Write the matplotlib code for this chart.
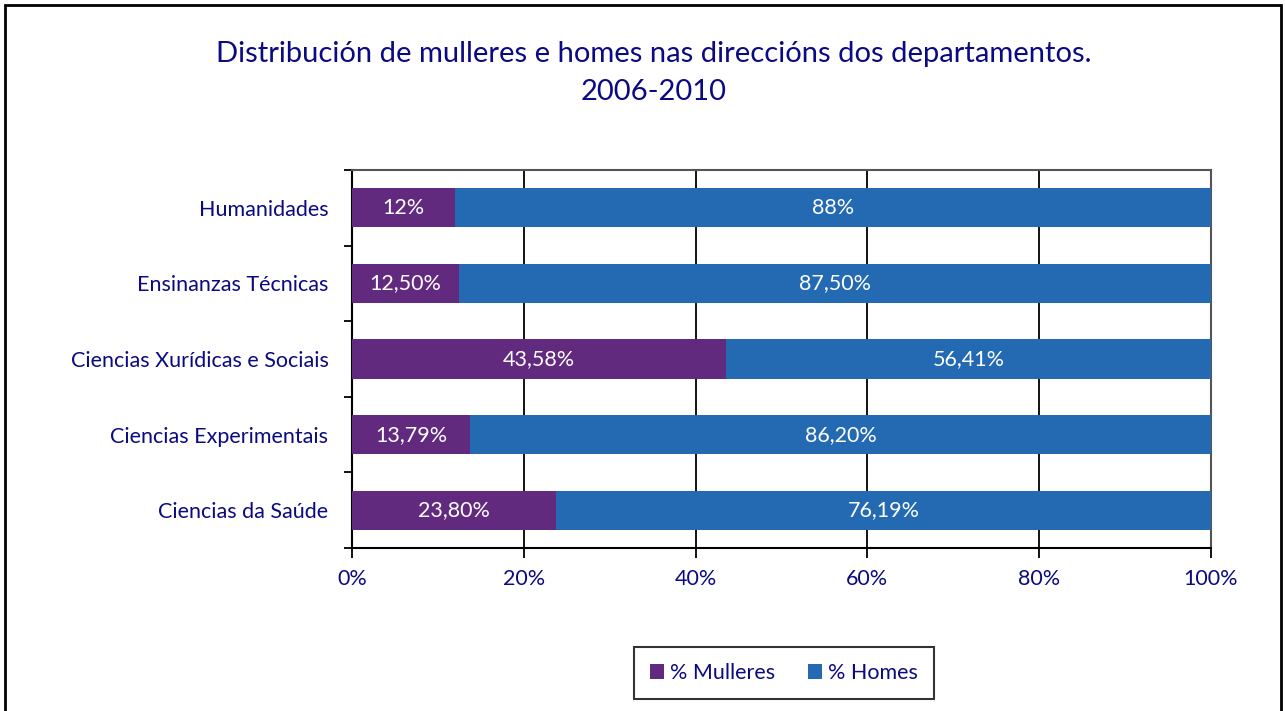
import matplotlib
matplotlib.use("Agg")
import matplotlib.pyplot as plt
import numpy as np
from matplotlib.patches import Rectangle

categories = ["Ciencias da Saúde", "Ciencias Experimentais", "Ciencias Xurídicas e Sociais",
              "Ensinanzas Técnicas", "Humanidades"]
mulleres = [23.80, 13.79, 43.58, 12.50, 12.0]
homes = [76.19, 86.20, 56.41, 87.50, 88.0]
mulleres_labels = ["23,80%", "13,79%", "43,58%", "12,50%", "12%"]
homes_labels = ["76,19%", "86,20%", "56,41%", "87,50%", "88%"]
series_names = ["% Mulleres", "% Homes"]
xticks = [0, 20, 40, 60, 80, 100]
xtick_labels = ["0%", "20%", "40%", "60%", "80%", "100%"]
title = "Distribución de mulleres e homes nas direccións dos departamentos.\n2006-2010"

NAVY = "#0A0A82"
PURPLE = "#622A7F"
BLUE = "#236AB3"

plt.rcParams["font.family"] = ["Lato", "DejaVu Sans"]

W, H = 1285, 711
fig = plt.figure(figsize=(W / 100, H / 100), dpi=100)
ax = fig.add_axes([352 / W, 1 - 548 / H, (1211 - 352) / W, (548 - 170) / H])

y = np.arange(len(categories))
bh = 0.52
b1 = ax.barh(y, mulleres, height=bh, color=PURPLE, label=series_names[0], zorder=3)
b2 = ax.barh(y, homes, left=mulleres, height=bh, color=BLUE, label=series_names[1], zorder=3)

for i in range(len(categories)):
    ax.text(mulleres[i] / 2, y[i], mulleres_labels[i], ha="center", va="center",
            color="white", fontsize=15.5, zorder=4)
    ax.text(mulleres[i] + homes[i] / 2, y[i], homes_labels[i], ha="center", va="center",
            color="white", fontsize=15.5, zorder=4)

ax.set_xlim(0, 100)
ax.set_ylim(-0.5, len(categories) - 0.5)
ax.set_xticks(xticks)
ax.set_xticklabels(xtick_labels, color=NAVY, fontsize=15.5)
ax.set_yticks(y)
ax.set_yticklabels(categories, color=NAVY, fontsize=15.5)
ax.tick_params(axis="y", length=0, pad=17)
ax.set_yticks(np.arange(-0.5, len(categories)), minor=True)
ax.tick_params(axis="y", which="minor", length=6, width=1.3, color="black")
ax.tick_params(axis="x", length=7, width=1.3, color="black", pad=8)
ax.xaxis.grid(True, color="black", linewidth=1.3, zorder=1)
ax.set_axisbelow(True)
for side in ["left", "bottom"]:
    ax.spines[side].set_linewidth(1.5)
    ax.spines[side].set_color("black")
for side in ["top", "right"]:
    ax.spines[side].set_linewidth(1.5)
    ax.spines[side].set_color("#555555")

fig.text(654 / W, 1 - 73 / H, title, ha="center", va="center", color=NAVY,
         fontsize=21, linespacing=1.6)

leg = fig.legend(handles=[b1, b2], labels=series_names, loc="center",
                 bbox_to_anchor=(784 / W, 1 - 673 / H), ncol=2, frameon=True,
                 fancybox=False, edgecolor="black", fontsize=15.5, handlelength=0.65,
                 handleheight=0.65, handletextpad=0.3, columnspacing=1.5,
                 borderpad=0.75, borderaxespad=0)
leg.get_frame().set_linewidth(1.5)
for t in leg.get_texts():
    t.set_color(NAVY)

fig.patches.append(Rectangle((5 / W, -0.05), (1281 - 5) / W, 1 - 5 / H + 0.05,
                             transform=fig.transFigure, fill=False,
                             edgecolor="black", linewidth=2))

fig.savefig("out.png", dpi=100)
